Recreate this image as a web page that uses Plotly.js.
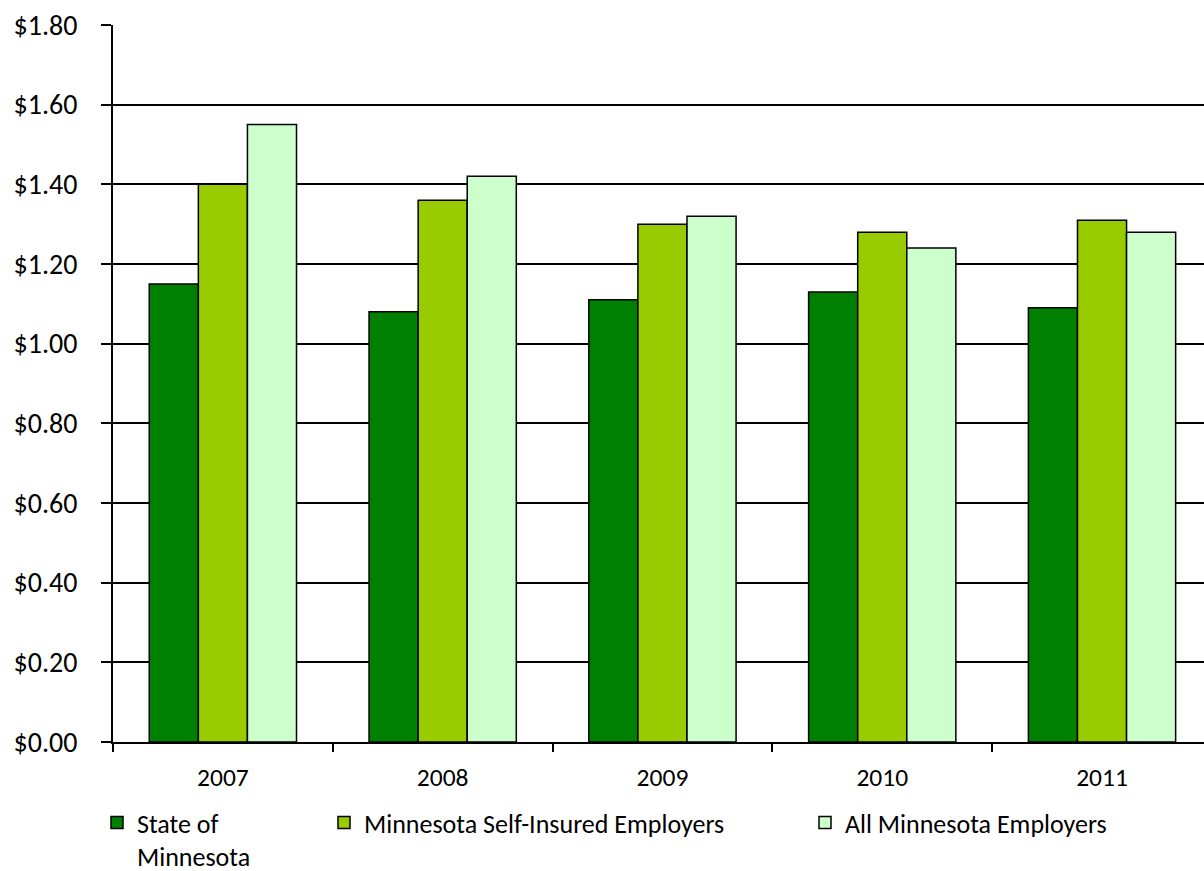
<!DOCTYPE html>
<html>
<head>
<meta charset="utf-8">
<script src="https://cdn.plot.ly/plotly-3.0.1.min.js"></script>
<style>html,body{margin:0;padding:0;background:#fff;}#chart{width:1204px;height:871px;}</style>
</head>
<body>
<div id="chart"></div>
<script>
const years = ["2007", "2008", "2009", "2010", "2011"];
const seriesNames = ["State of<br>Minnesota", "Minnesota Self-Insured Employers", "All Minnesota Employers"];
const stateOfMinnesota = [1.15, 1.08, 1.11, 1.13, 1.09];
const selfInsured = [1.40, 1.36, 1.30, 1.28, 1.31];
const allEmployers = [1.55, 1.42, 1.32, 1.24, 1.28];
const yTicks = [0, 0.2, 0.4, 0.6, 0.8, 1.0, 1.2, 1.4, 1.6, 1.8];
const yTickText = yTicks.map(v => "$" + v.toFixed(2));

const colors = ["#008000", "#99CC00", "#CCFFCC"];
const values = [stateOfMinnesota, selfInsured, allEmployers];
const legends = ["legend", "legend2", "legend3"];
const font = "Carlito, Calibri, Lato, sans-serif";

const traces = values.map((v, i) => ({
  type: "bar",
  x: years,
  y: v,
  name: seriesNames[i],
  legend: legends[i],
  marker: {color: colors[i], line: {color: "#000", width: 1.5}},
  hoverinfo: "y"
}));

const legendBase = {
  orientation: "h",
  xref: "container", yref: "container",
  yanchor: "top", xanchor: "left",
  valign: "top",
  bgcolor: "rgba(0,0,0,0)",
  font: {family: font, size: 26, color: "#000"},
  itemwidth: 30,
  tracegroupgap: 0
};
const legY = 1 - 799 / 871;

const layout = {
  width: 1204, height: 871,
  margin: {l: 113, r: 0, t: 25, b: 129},
  paper_bgcolor: "#fff", plot_bgcolor: "#fff",
  font: {family: font, color: "#000"},
  bargap: 0.33, bargroupgap: 0,
  barmode: "group",
  showlegend: true,
  xaxis: {
    type: "category",
    range: [-0.5, 4.464],
    showline: true, linecolor: "#000", linewidth: 2,
    ticks: "outside", tickson: "boundaries", ticklen: 8, tickwidth: 2, tickcolor: "#000",
    ticklabelstandoff: 11,
    tickfont: {family: font, size: 25.5, color: "#000"},
    showgrid: false, zeroline: false
  },
  yaxis: {
    range: [0, 1.8],
    tickmode: "array",
    tickvals: yTicks,
    ticktext: yTickText,
    showline: true, linecolor: "#000", linewidth: 2,
    ticks: "outside", ticklen: 10, tickwidth: 2, tickcolor: "#000",
    ticklabelstandoff: 18,
    tickfont: {family: font, size: 28, color: "#000"},
    showgrid: true, gridcolor: "#000", gridwidth: 2,
    zeroline: false
  },
  legend: Object.assign({}, legendBase, {x: 97/1204, y: legY}),
  legend2: Object.assign({}, legendBase, {x: 324/1204, y: legY}),
  legend3: Object.assign({}, legendBase, {x: 805/1204, y: legY})
};

Plotly.newPlot("chart", traces, layout, {displayModeBar: false, staticPlot: true});
</script>
</body>
</html>
